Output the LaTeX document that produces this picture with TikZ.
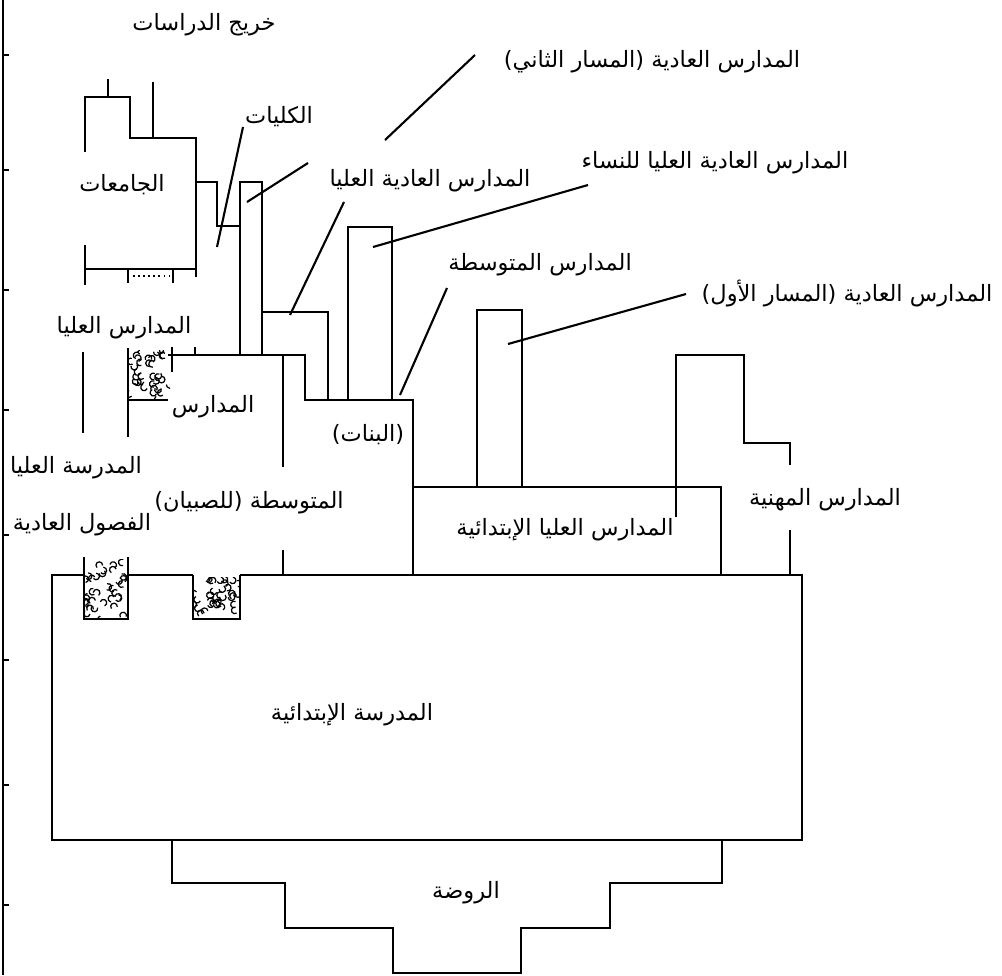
\documentclass[tikz,border=0pt]{standalone}
\usepackage{fontspec}
\newfontfamily\arabicfont[Script=Arabic]{DejaVu Sans}
\TeXXeTstate=1
\newcommand{\rtl}[1]{\beginR #1\endR}
% random scribbles inside the shaded cells
\newcommand{\scribble}[4]{%
  \begin{scope}
    \clip (#1,#2) rectangle (#3,#4);
    \foreach \k in {1,...,34}{
      \pgfmathsetmacro{\px}{#1+rnd*(#3-#1)}
      \pgfmathsetmacro{\py}{#2+rnd*(#4-#2)}
      \pgfmathsetmacro{\pa}{rnd*360}
      \draw[line width=0.7pt] (\px,\py) arc[start angle=\pa, delta angle=230, radius=1.9pt];
    }
  \end{scope}}
\begin{document}
\begin{tikzpicture}[
    x=0.02cm, y=-0.02cm,
    wall/.style={line width=0.9pt, line join=miter},
    leader/.style={line width=1.2pt},
    lbl/.style={font=\arabicfont\fontsize{12.8}{15}\selectfont, inner sep=0pt}
  ]
    \useasboundingbox (0,0) rectangle (1002,975);
    \pgfmathsetseed{11}

    % left border
    \draw[line width=1.2pt] (3,0) -- (3,975);
    \foreach \t in {55,170,290,410,535,660,785,905}
      \draw[wall] (3,\t) -- (9,\t);

    % universities
    \draw[wall] (85,152) -- (85,97) -- (130,97) -- (130,138) -- (196,138) -- (196,277);
    \draw[wall] (108,79) -- (108,97);
    \draw[wall] (153,82) -- (153,138);
    \draw[wall] (85,245) -- (85,285);
    \draw[wall] (85,269) -- (196,269);
    \draw[wall] (128,269) -- (128,283);
    \draw[wall] (173,269) -- (173,283);
    \draw[wall, dotted] (133,276) -- (169,276);

    % colleges
    \draw[wall] (196,182) -- (217,182) -- (217,226) -- (240,226) -- (240,182) -- (262,182) -- (262,355);
    \draw[wall] (240,226) -- (240,355);

    % higher normal schools
    \draw[wall] (262,312) -- (328,312) -- (328,400);

    % higher normal schools for women
    \draw[wall] (348,400) -- (348,227) -- (392,227) -- (392,400);

    % middle schools
    \scribble{129}{350}{170}{399}
    \draw[wall] (128,348) -- (128,437);
    \draw[wall] (128,400) -- (168,400);
    \draw[wall] (172,347) -- (172,372);
    \draw[wall] (195,347) -- (195,355);
    \draw[wall] (168,355) -- (305,355) -- (305,400) -- (413,400) -- (413,575);
    \draw[wall] (283,355) -- (283,467);
    \draw[wall] (283,550) -- (283,575);

    % higher school
    \draw[wall] (83,352) -- (83,433);

    % first track normal schools
    \draw[wall] (477,487) -- (477,310) -- (522,310) -- (522,487);

    % higher primary schools
    \draw[wall] (413,487) rectangle (721,575);

    % vocational schools
    \draw[wall] (676,517) -- (676,355) -- (744,355) -- (744,443) -- (790,443) -- (790,465);
    \draw[wall] (790,530) -- (790,575);

    % primary school
    \scribble{85}{559}{127}{618}
    \scribble{194}{577}{239}{618}
    \draw[wall] (84,575) -- (52,575) -- (52,840) -- (802,840) -- (802,575) -- (240,575);
    \draw[wall] (128,575) -- (193,575);
    \draw[wall] (84,557) -- (84,619) -- (128,619) -- (128,557);
    \draw[wall] (193,575) -- (193,619) -- (240,619) -- (240,575);

    % kindergarten
    \draw[wall] (172,840) -- (172,883) -- (285,883) -- (285,928) -- (393,928) -- (393,973)
      -- (521,973) -- (521,928) -- (610,928) -- (610,883) -- (722,883) -- (722,840);

    % labels
    \node[lbl] (lblGrad) at (204,25) {\rtl{خريج الدراسات}};
    \node[lbl] (lblPathTwo) at (652,62) {\rtl{المدارس العادية (المسار الثاني)}};
    \node[lbl] (lblColleges) at (279,117) {\rtl{الكليات}};
    \node[lbl] (lblUniv) at (122,185) {\rtl{الجامعات}};
    \node[lbl] (lblWomen) at (715,163) {\rtl{المدارس العادية العليا للنساء}};
    \node[lbl] (lblHighNormal) at (430,181) {\rtl{المدارس العادية العليا}};
    \node[lbl] (lblMiddle) at (540,265) {\rtl{المدارس المتوسطة}};
    \node[lbl] (lblPathOne) at (847,294) {\rtl{المدارس العادية (المسار الأول)}};
    \node[lbl] (lblHighSchools) at (124,328) {\rtl{المدارس العليا}};
    \node[lbl] (lblSchools) at (213,407) {\rtl{المدارس}};
    \node[lbl] (lblGirls) at (368,435) {\rtl{(البنات)}};
    \node[lbl] (lblHighSchool) at (76,468) {\rtl{المدرسة العليا}};
    \node[lbl] (lblBoys) at (249,503) {\rtl{المتوسطة (للصبيان)}};
    \node[lbl] (lblClasses) at (82,525) {\rtl{الفصول العادية}};
    \node[lbl] (lblVocational) at (825,500) {\rtl{المدارس المهنية}};
    \node[lbl] (lblHighPrimary) at (565,530) {\rtl{المدارس العليا الإبتدائية}};
    \node[lbl] (lblPrimary) at (352,715) {\rtl{المدرسة الإبتدائية}};
    \node[lbl] (lblKinder) at (466,893) {\rtl{الروضة}};

    % leader lines
    \coordinate (pathTwoA) at (475,55);   \coordinate (pathTwoB) at (385,140);
    \coordinate (extraA) at (308,163);    \coordinate (extraB) at (247,202);
    \coordinate (collegeA) at (243,127);  \coordinate (collegeB) at (217,247);
    \coordinate (highNormA) at (344,202); \coordinate (highNormB) at (290,315);
    \coordinate (womenA) at (588,185);    \coordinate (womenB) at (373,247);
    \coordinate (middleA) at (447,288);   \coordinate (middleB) at (400,395);
    \coordinate (pathOneA) at (686,294);  \coordinate (pathOneB) at (508,344);
    \draw[leader] (pathTwoA) -- (pathTwoB);
    \draw[leader] (extraA) -- (extraB);
    \draw[leader] (collegeA) -- (collegeB);
    \draw[leader] (highNormA) -- (highNormB);
    \draw[leader] (womenA) -- (womenB);
    \draw[leader] (middleA) -- (middleB);
    \draw[leader] (pathOneA) -- (pathOneB);
  \end{tikzpicture}
\end{document}
